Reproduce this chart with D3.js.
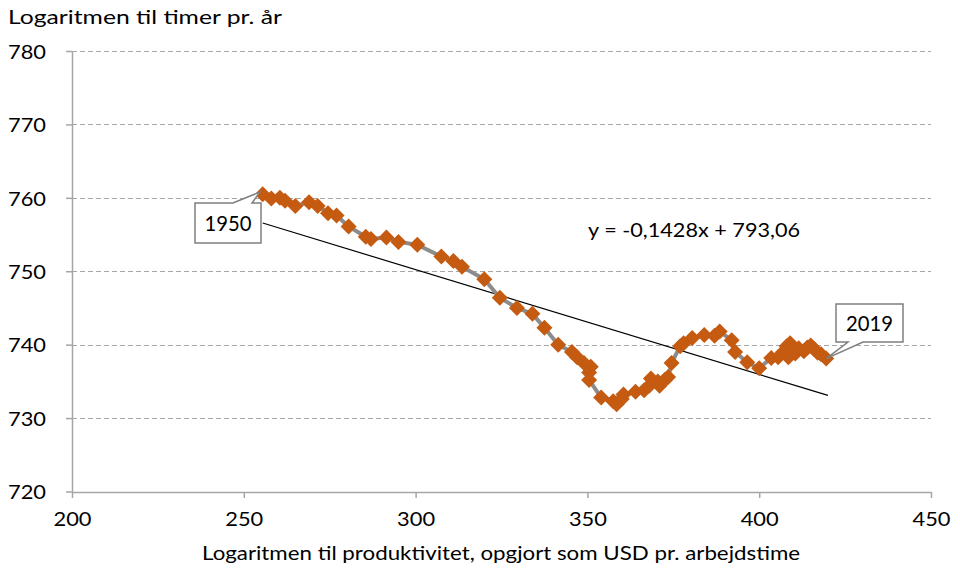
<!DOCTYPE html>
<html><head><meta charset="utf-8">
<script src="https://cdn.jsdelivr.net/npm/d3@7"></script>
<style>body{margin:0;background:#fff}svg{display:block}text{font-family:Lato,"Liberation Sans",sans-serif;fill:#000}</style>
</head><body><svg id="c" width="960" height="568"></svg>
<script>
const years = d3.range(1950, 2020);
const productivity = [255.5,258.0,260.5,262.0,265.0,269.0,271.5,274.5,277.0,280.5,
285.5,287.0,291.5,295.0,300.5,307.5,311.0,313.5,320.0,324.5,
329.5,334.0,337.5,341.5,345.5,347.0,349.0,351.0,350.5,350.5,
354.0,357.5,358.5,360.0,360.5,364.0,366.5,368.0,368.5,370.5,
371.0,372.5,373.5,374.5,377.0,378.0,380.5,384.0,387.0,388.5,
392.0,393.0,396.5,400.0,403.5,405.5,407.0,408.0,409.0,408.5,
410.0,410.5,411.5,413.0,414.0,415.0,416.0,417.0,418.0,419.5];
const hours = [760.5,759.9,760.0,759.6,758.9,759.4,758.9,757.9,757.6,756.1,
754.7,754.4,754.6,754.0,753.6,752.0,751.4,750.6,748.9,746.4,
745.0,744.2,742.3,740.0,739.0,738.3,737.5,737.0,736.2,735.2,
732.8,732.3,731.9,732.6,733.2,733.6,733.8,734.4,735.4,735.0,
734.4,735.2,735.6,737.5,739.8,740.2,740.9,741.3,741.2,741.8,
740.6,739.0,737.6,736.8,738.2,738.3,739.0,739.8,740.2,738.3,
739.2,738.8,739.5,739.1,739.6,739.9,739.4,738.9,738.7,738.1];
const xTicks = [200,250,300,350,400,450];
const yTicks = [720,730,740,750,760,770,780];
const trendSlope = -0.1428, trendIntercept = 793.06;
const trendRange = [255.5, 420];
const yTitle = "Logaritmen til timer pr. år";
const xTitle = "Logaritmen til produktivitet, opgjort som USD pr. arbejdstime";
const eqText = "y = -0,1428x + 793,06";

const svg = d3.select("#c");
const x = d3.scaleLinear().domain([200,450]).range([72,931]);
const y = d3.scaleLinear().domain([720,780]).range([491.5,51]);
const axisCol = "#a6a6a6";
const FS = 20;

// gridlines
svg.append("g").selectAll("line").data(yTicks.filter(t=>t>720)).join("line")
  .attr("x1",x(200)).attr("x2",x(450)).attr("y1",d=>Math.round(y(d))+0.5).attr("y2",d=>Math.round(y(d))+0.5)
  .attr("stroke","#a6a6a6").attr("stroke-dasharray","5,3").attr("stroke-width",1);

// axes
const gx = svg.append("g").attr("transform",`translate(0,${Math.round(y(720))})`)
  .call(d3.axisBottom(x).tickValues(xTicks).tickSize(6).tickSizeOuter(0).tickPadding(14));
const gy = svg.append("g").attr("transform",`translate(${x(200)},0)`)
  .call(d3.axisLeft(y).tickValues(yTicks).tickSize(6).tickSizeOuter(0).tickPadding(20));
[gx,gy].forEach(g=>{
  g.select(".domain").attr("stroke",axisCol).attr("stroke-width",1.5);
  g.selectAll(".tick line").attr("stroke",axisCol).attr("stroke-width",1.5);
  g.selectAll(".tick text").attr("font-size",FS).attr("font-family","Lato").attr("fill","#000")
    .attr("textLength",38).attr("lengthAdjust","spacingAndGlyphs");
});
gy.selectAll(".tick text").attr("dy","0.36em");

// titles
svg.append("text").attr("x",8).attr("y",24).attr("font-size",FS)
  .attr("textLength",274).attr("lengthAdjust","spacingAndGlyphs").text(yTitle);
svg.append("text").attr("x",202).attr("y",560).attr("font-size",FS)
  .attr("textLength",598).attr("lengthAdjust","spacingAndGlyphs").text(xTitle);

// trend line
svg.append("line")
  .attr("x1",x(trendRange[0])).attr("y1",y(trendSlope*trendRange[0]+trendIntercept))
  .attr("x2",x(trendRange[1])).attr("y2",y(trendSlope*trendRange[1]+trendIntercept))
  .attr("stroke","#000").attr("stroke-width",1.2);

// series line
const pts = years.map((yr,i)=>({yr, px:productivity[i], h:hours[i]}));
svg.append("path").datum(pts)
  .attr("d", d3.line().x(d=>x(d.px)).y(d=>y(d.h)))
  .attr("fill","none").attr("stroke","#8c8c8c").attr("stroke-width",4).attr("stroke-linejoin","round");

svg.append("g").selectAll("path").data(pts).join("path")
  .attr("transform",d=>`translate(${x(d.px)},${y(d.h)})`)
  .attr("d","M0,-8L8,0L0,8L-8,0Z").attr("fill","#c55a11");

// equation
svg.append("text").attr("x",588).attr("y",237).attr("font-size",FS)
  .attr("textLength",212).attr("lengthAdjust","spacingAndGlyphs").text(eqText);

// callouts
function callout(bx,by,bw,bh,w1,w2,edgeY,tip,label){
  const [tx,ty]=tip;
  const path = (edgeY==="top")
    ? `M${bx},${by}L${w1},${by}L${tx},${ty}L${w2},${by}L${bx+bw},${by}L${bx+bw},${by+bh}L${bx},${by+bh}Z`
    : `M${bx},${by}L${bx+bw},${by}L${bx+bw},${by+bh}L${w2},${by+bh}L${tx},${ty}L${w1},${by+bh}L${bx},${by+bh}Z`;
  svg.append("path").attr("d",path).attr("fill","#fff").attr("stroke","#7f7f7f").attr("stroke-width",1.5);
  svg.append("text").attr("x",bx+bw/2).attr("y",by+bh/2).attr("dy","0.36em").attr("text-anchor","middle")
    .attr("font-size",21).attr("textLength",47).attr("lengthAdjust","spacingAndGlyphs").text(label);
}
const p0 = pts[0], pN = pts[pts.length-1];
callout(195,203,66,40,233,252,"top",[x(p0.px)-3,y(p0.h)-2],String(p0.yr));
callout(836,304,67,38,848,863,"bottom",[x(pN.px),y(pN.h)],String(pN.yr));
</script></body></html>
